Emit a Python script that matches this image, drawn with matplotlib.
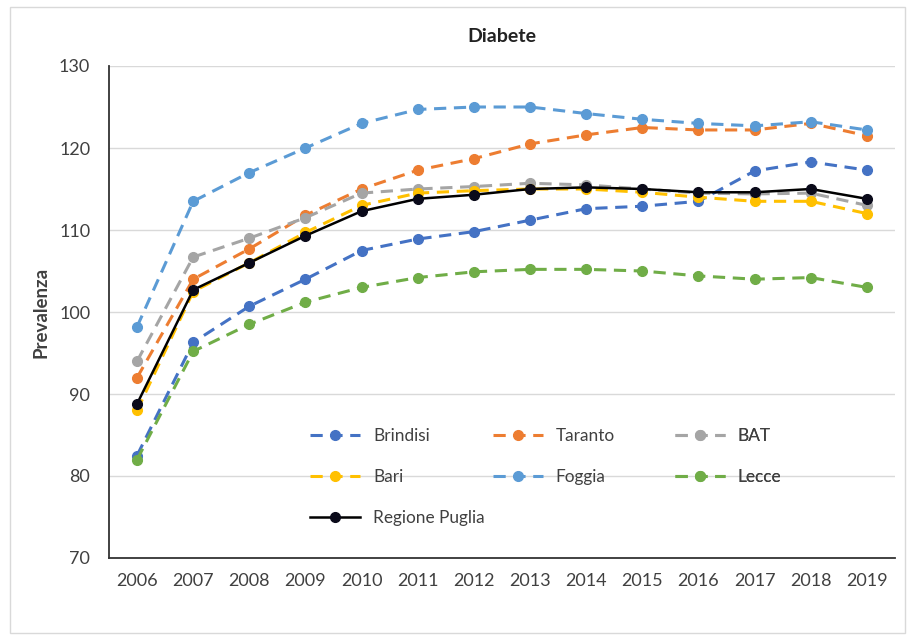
import matplotlib.pyplot as plt
from matplotlib.patches import Rectangle

plt.rcParams['font.family'] = ['Lato', 'DejaVu Sans']

years = ['2006', '2007', '2008', '2009', '2010', '2011', '2012',
         '2013', '2014', '2015', '2016', '2017', '2018', '2019']

brindisi = [82.5, 96.3, 100.7, 104.0, 107.5, 108.9, 109.8, 111.2, 112.6, 112.9, 113.5, 117.2, 118.3, 117.3]
taranto = [92.0, 104.0, 107.7, 111.8, 115.0, 117.3, 118.7, 120.5, 121.6, 122.5, 122.2, 122.2, 123.0, 121.5]
bat = [94.0, 106.7, 109.0, 111.5, 114.5, 115.0, 115.3, 115.7, 115.5, 115.0, 114.5, 114.4, 114.5, 113.0]
bari = [88.0, 102.5, 106.0, 109.7, 113.0, 114.5, 114.8, 115.0, 115.0, 114.6, 114.0, 113.5, 113.5, 112.0]
foggia = [98.2, 113.5, 117.0, 120.0, 123.0, 124.7, 125.0, 125.0, 124.2, 123.5, 123.0, 122.7, 123.2, 122.2]
lecce = [82.0, 95.2, 98.5, 101.2, 103.0, 104.2, 104.9, 105.2, 105.2, 105.0, 104.4, 104.0, 104.2, 103.0]
puglia = [88.8, 102.7, 106.0, 109.3, 112.3, 113.8, 114.3, 115.0, 115.2, 115.0, 114.6, 114.6, 115.0, 113.8]

series = [
    ('Brindisi', brindisi, '#4472C4'),
    ('Taranto', taranto, '#ED7D31'),
    ('BAT', bat, '#A5A5A5'),
    ('Bari', bari, '#FFC000'),
    ('Foggia', foggia, '#5B9BD5'),
    ('Lecce', lecce, '#70AD47'),
]

fig = plt.figure(figsize=(9.12, 6.37), dpi=100)
ax = fig.add_axes([109/912, 1 - 558/637, 786/912, 492/637])

x = list(range(len(years)))
handles = {}
for name, vals, col in series:
    h, = ax.plot(x, vals, color=col, lw=2.2, dashes=(4, 2.5), marker='o',
                 ms=7, mfc=col, mec=col, label=name, zorder=3)
    handles[name] = h
h, = ax.plot(x, puglia, color='black', lw=1.8, marker='o', ms=7,
             mfc='#0a0a1a', mec='#0a0a1a', label='Regione Puglia', zorder=4)
handles['Regione Puglia'] = h

ax.set_xlim(-0.5, len(years) - 0.5)
ax.set_ylim(70, 130)
ax.set_yticks(range(70, 131, 10))
ax.set_xticks(x)
ax.set_xticklabels(years)
ax.grid(axis='y', color='#D9D9D9', lw=1)
ax.set_axisbelow(True)
for s in ['top', 'right']:
    ax.spines[s].set_visible(False)
for s in ['left', 'bottom']:
    ax.spines[s].set_color('#333333')
    ax.spines[s].set_linewidth(1.3)
ax.tick_params(length=0, labelsize=13, colors='#404040')
ax.tick_params(axis='x', pad=11)
ax.tick_params(axis='y', pad=13.5)

ax.set_title('Diabete', fontsize=14, fontweight='bold', color='#222222', pad=17)
ax.set_ylabel('Prevalenza', fontsize=13.5, fontweight='bold', color='#404040')
ax.yaxis.set_label_coords(-0.0763, 0.5)

# legend in three columns, like the Excel layout
cols = [(['Brindisi', 'Bari', 'Regione Puglia'], 0.256),
        (['Taranto', 'Foggia'], 0.4885),
        (['BAT', 'Lecce'], 0.72)]
for names, xpos in cols:
    leg = ax.legend([handles[n] for n in names], names, loc='upper left',
                    bbox_to_anchor=(xpos, 0.264), frameon=False, fontsize=12.4,
                    handlelength=2.9, handletextpad=0.75, labelspacing=1.45,
                    borderpad=0, borderaxespad=0, labelcolor='#404040')
    ax.add_artist(leg)

fig.add_artist(Rectangle((10/912, 1 - 633/637), 895/912, 626/637,
                         transform=fig.transFigure, fill=False,
                         ec='#D9D9D9', lw=1))

fig.savefig('out.png', dpi=100)
